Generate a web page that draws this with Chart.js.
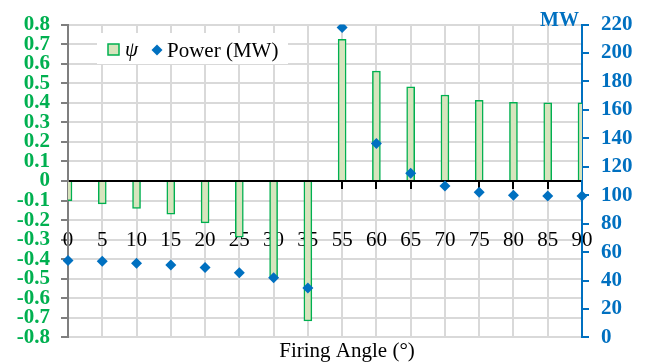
<!DOCTYPE html>
<html>
<head>
<meta charset="utf-8">
<script src="https://cdn.jsdelivr.net/npm/chart.js@4"></script>
<style>
  html, body { margin: 0; padding: 0; background: #fff; }
  #wrap { width: 649px; height: 362px; position: relative; }
</style>
</head>
<body>
<div id="wrap"><canvas id="chart"></canvas></div>
<script>
const angles = ['0', '5', '10', '15', '20', '25', '30', '35', '55', '60', '65', '70', '75', '80', '85', '90'];
const psiValues = [-0.10, -0.117, -0.14, -0.17, -0.214, -0.287, -0.49, -0.716, 0.725, 0.562, 0.482, 0.44, 0.413, 0.403, 0.40, 0.40];
const powerValues = [54.1, 53.5, 52.2, 50.9, 49.1, 45.4, 41.9, 34.7, 218, 136.4, 115.4, 106.5, 102.1, 100, 99.5, 99.5];

const GREEN = '#00b050';
const BLUE = '#0070c0';
const GRID = '#d9d9d9';
const SERIF = '"Liberation Serif", "Times New Roman", serif';

const extraText = {
    id: 'extraText',
    afterDraw(chart) {
        const ctx = chart.ctx;
        ctx.save();
        // MW unit label
        ctx.fillStyle = BLUE;
        ctx.font = 'bold 20px ' + SERIF;
        ctx.textAlign = 'right';
        ctx.textBaseline = 'middle';
        ctx.fillText('MW', 579, 21);

        // axis title
        ctx.fillStyle = '#000';
        ctx.font = '21px ' + SERIF;
        ctx.textAlign = 'center';
        ctx.textBaseline = 'alphabetic';
        ctx.fillText('Firing Angle (°)', 347, 357);

        // legend
        ctx.fillStyle = '#fff';
        ctx.fillRect(97, 33, 191, 31);
        ctx.fillStyle = '#d7e4bd';
        ctx.strokeStyle = GREEN;
        ctx.lineWidth = 1.5;
        ctx.fillRect(108, 44, 11, 11);
        ctx.strokeRect(108, 44, 11, 11);
        ctx.fillStyle = '#000';
        ctx.textAlign = 'left';
        ctx.textBaseline = 'middle';
        ctx.font = 'italic 21px ' + SERIF;
        ctx.fillText(chart.data.datasets[0].label, 125, 50);
        ctx.fillStyle = BLUE;
        ctx.beginPath();
        ctx.moveTo(157, 44.5);
        ctx.lineTo(162.5, 50);
        ctx.lineTo(157, 55.5);
        ctx.lineTo(151.5, 50);
        ctx.closePath();
        ctx.fill();
        ctx.fillStyle = '#000';
        ctx.font = '21px ' + SERIF;
        ctx.fillText(chart.data.datasets[1].label, 167, 51);
        ctx.restore();
    }
};

new Chart(document.getElementById('chart'), {
    type: 'bar',
    data: {
        labels: angles,
        datasets: [{
            label: 'ψ',
            data: psiValues,
            backgroundColor: '#d7e4bd',
            borderColor: GREEN,
            borderWidth: 1.5,
            barThickness: 8,
            yAxisID: 'y',
            order: 1
        }, {
            type: 'line',
            label: 'Power (MW)',
            data: powerValues,
            showLine: false,
            pointStyle: 'rectRot',
            pointRadius: 5.5,
            pointBackgroundColor: BLUE,
            pointBorderColor: BLUE,
            pointBorderWidth: 0,
            yAxisID: 'y1',
            order: 0
        }]
    },
    options: {
        responsive: true,
        maintainAspectRatio: false,
        animation: false,
        layout: { padding: { top: 16, bottom: 10, left: 0, right: 0 } },
        plugins: {
            legend: { display: false },
            tooltip: { enabled: false }
        },
        scales: {
            x: {
                type: 'category',
                offset: false,
                position: { y: 0 },
                grid: {
                    offset: false,
                    color: GRID,
                    lineWidth: 2,
                    tickColor: '#000',
                    tickLength: 7
                },
                border: { color: '#000', width: 2 },
                ticks: {
                    color: '#000',
                    font: { family: SERIF, size: 21 },
                    padding: 40,
                    maxRotation: 0,
                    autoSkip: false
                }
            },
            y: {
                position: 'left',
                min: -0.8,
                max: 0.8,
                afterFit: s => { s.width = 68; },
                grid: {
                    color: ctx => ctx.tick && Math.abs(ctx.tick.value) < 1e-9 ? '#000' : GRID,
                    lineWidth: 2,
                    tickColor: '#7f7f7f',
                    tickLength: 7
                },
                border: { color: '#7f7f7f', width: 2 },
                ticks: {
                    stepSize: 0.1,
                    autoSkip: false,
                    color: GREEN,
                    padding: 11,
                    font: { family: SERIF, size: 21, weight: 'bold' },
                    callback: v => {
                        const r = Math.round(v * 10) / 10;
                        return r === 0 ? '0' : r.toFixed(1);
                    }
                }
            },
            y1: {
                position: 'right',
                min: 0,
                max: 220,
                afterFit: s => { s.width = 67; },
                grid: {
                    drawOnChartArea: false,
                    color: BLUE,
                    tickColor: BLUE,
                    lineWidth: 2,
                    tickLength: 7
                },
                border: { color: BLUE, width: 2 },
                ticks: {
                    stepSize: 20,
                    autoSkip: false,
                    color: BLUE,
                    padding: 12,
                    font: { family: SERIF, size: 21, weight: 'bold' }
                }
            }
        }
    },
    plugins: [extraText]
});
</script>
</body>
</html>
